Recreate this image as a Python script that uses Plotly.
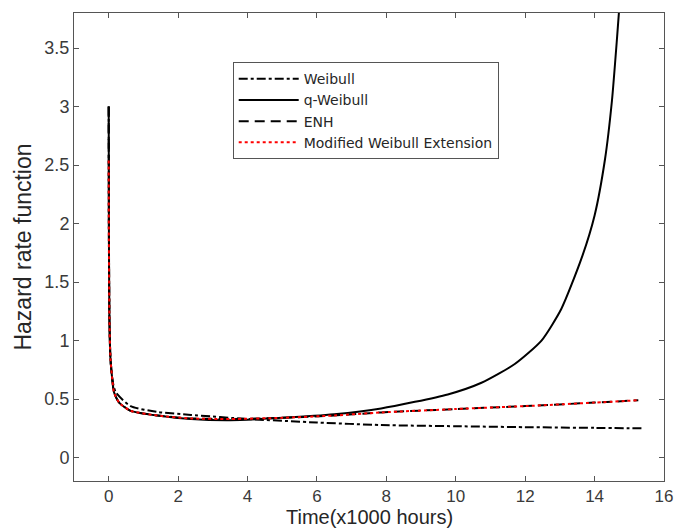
import plotly.graph_objects as go

# ---- data ----
t_weibull = [0.0, 0.005, 0.02, 0.05, 0.11, 0.2, 0.63, 1.4, 2.37, 4.0, 6.0, 7.85, 10.0, 12.0, 14.0, 15.35]
h_weibull = [3.0, 2.0, 1.2, 0.85, 0.66, 0.56, 0.44, 0.39, 0.365, 0.33, 0.30, 0.278, 0.268, 0.26, 0.254, 0.25]

t_qweibull = [0.0, 0.005, 0.02, 0.05, 0.11, 0.15, 0.3, 0.63, 1.4, 2.37, 3.5, 5.0, 6.5, 7.85, 9.77,
              10.74, 11.7, 12.47, 13.04, 13.62, 14.0, 14.3, 14.5, 14.65, 14.75]
h_qweibull = [3.0, 2.0, 1.2, 0.85, 0.65, 0.56, 0.47, 0.40, 0.36, 0.33, 0.32, 0.34, 0.37, 0.42, 0.54,
              0.64, 0.80, 1.0, 1.27, 1.70, 2.07, 2.55, 3.05, 3.6, 4.0]

t_enh = [0.0, 0.005, 0.02, 0.05, 0.11, 0.15, 0.3, 0.63, 1.4, 2.37, 3.5, 5.0, 6.5, 7.85, 10.0, 12.0, 14.0, 15.26]
h_enh = [3.0, 2.0, 1.2, 0.85, 0.65, 0.56, 0.47, 0.40, 0.36, 0.335, 0.33, 0.34, 0.36, 0.386, 0.415, 0.44, 0.47, 0.49]

t_mwe = [0.0, 0.005, 0.02, 0.05, 0.11, 0.15, 0.3, 0.63, 1.4, 2.37, 3.5, 5.0, 6.5, 7.85, 10.0, 12.0, 14.0, 15.26]
h_mwe = [2.54, 1.9, 1.2, 0.85, 0.65, 0.56, 0.47, 0.40, 0.36, 0.335, 0.33, 0.34, 0.36, 0.386, 0.415, 0.44, 0.47, 0.49]

x_ticks = [0, 2, 4, 6, 8, 10, 12, 14, 16]
y_ticks = [0, 0.5, 1, 1.5, 2, 2.5, 3, 3.5]

x_title = "Time(x1000 hours)"
y_title = "Hazard rate function"

FONT = "Liberation Sans, Arial, sans-serif"

fig = go.Figure()
fig.add_trace(go.Scatter(x=t_weibull, y=h_weibull, mode="lines", name="Weibull",
                         line=dict(color="black", width=2, dash="dashdot", shape="spline", smoothing=0.6)))
fig.add_trace(go.Scatter(x=t_qweibull, y=h_qweibull, mode="lines", name="q-Weibull",
                         line=dict(color="black", width=2, shape="spline", smoothing=0.6)))
fig.add_trace(go.Scatter(x=t_enh, y=h_enh, mode="lines", name="ENH",
                         line=dict(color="black", width=2, dash="10px,6px", shape="spline", smoothing=0.6)))
fig.add_trace(go.Scatter(x=t_mwe, y=h_mwe, mode="lines", name="Modified Weibull Extension",
                         line=dict(color="red", width=2, dash="dot", shape="spline", smoothing=0.6)))

axis_common = dict(showline=True, linecolor="#555555", linewidth=1, mirror="allticks",
                   ticks="inside", ticklen=5, tickcolor="#555555", showgrid=False, zeroline=False,
                   automargin=False)

fig.update_xaxes(range=[-1, 16], tickvals=x_ticks,
                 tickfont=dict(family=FONT, size=17, color="#3a3a3a"), **axis_common)
fig.update_yaxes(range=[-0.2, 3.8], tickvals=y_ticks,
                 tickfont=dict(family=FONT, size=18, color="#3a3a3a"),
                 title=dict(text=y_title, font=dict(family=FONT, size=23, color="#262626"), standoff=6),
                 **axis_common)

# x-axis title as a paper-anchored annotation so it sits just inside the bottom edge
fig.add_annotation(text=x_title, xref="paper", yref="paper", x=0.5, y=0,
                   xanchor="center", yanchor="bottom", yshift=-49, showarrow=False,
                   font=dict(family=FONT, size=20, color="#262626"))

# the page body has an 8px default margin, so the figure is sized 8px smaller
fig.update_layout(
    width=677, height=523,
    margin=dict(l=66, r=21, t=5, b=50),
    paper_bgcolor="white", plot_bgcolor="white",
    showlegend=True,
    legend=dict(x=0.269, y=0.895, xanchor="left", yanchor="top",
                bgcolor="white", bordercolor="#555555", borderwidth=1,
                font=dict(family="DejaVu Sans, sans-serif", size=14, color="#262626"),
                itemwidth=60, tracegroupgap=0),
    font=dict(family=FONT),
)

fig.write_html("out.html")
